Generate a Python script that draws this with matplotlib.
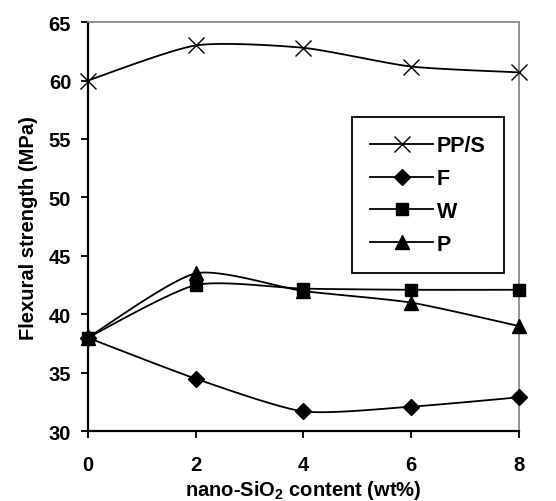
import numpy as np
import matplotlib.pyplot as plt

plt.rcParams['font.family'] = ['Liberation Sans', 'DejaVu Sans']
plt.rcParams['font.weight'] = 'bold'
plt.rcParams['mathtext.fontset'] = 'custom'
plt.rcParams['mathtext.rm'] = 'Liberation Sans:bold'
plt.rcParams['mathtext.bf'] = 'Liberation Sans:bold'

x = [0, 2, 4, 6, 8]
pps = [60.0, 63.0, 62.8, 61.2, 60.7]
f = [38.0, 34.5, 31.7, 32.1, 32.9]
w = [38.0, 42.5, 42.2, 42.1, 42.1]
p = [38.0, 43.5, 42.0, 41.0, 39.0]


def smooth(xs, ys, n=30, k=9.0):
    # excel-ish smoothed line (bezier through the points)
    xs = np.asarray(xs, float)
    ys = np.asarray(ys, float)
    px, py = [], []
    for i in range(len(xs) - 1):
        x0, y0 = xs[max(i - 1, 0)], ys[max(i - 1, 0)]
        x1, y1 = xs[i], ys[i]
        x2, y2 = xs[i + 1], ys[i + 1]
        x3, y3 = xs[min(i + 2, len(xs) - 1)], ys[min(i + 2, len(xs) - 1)]
        c1x, c1y = x1 + (x2 - x0) / k, y1 + (y2 - y0) / k
        c2x, c2y = x2 - (x3 - x1) / k, y2 - (y3 - y1) / k
        t = np.linspace(0, 1, n)
        px += list((1-t)**3*x1 + 3*(1-t)**2*t*c1x + 3*(1-t)*t**2*c2x + t**3*x2)
        py += list((1-t)**3*y1 + 3*(1-t)**2*t*c1y + 3*(1-t)*t**2*c2y + t**3*y2)
    return px, py


fig = plt.figure(figsize=(5.56, 5.02), dpi=100)
ax = fig.add_axes([0.158, 0.139, 0.775, 0.815])

series = [(pps, 'x', 11, 'PP/S'), (f, 'D', 8, 'F'), (w, 's', 9, 'W'), (p, '^', 9.5, 'P')]
handles = []
for ys, m, ms, lab in series:
    sx, sy = smooth(x, ys)
    ax.plot(sx, sy, color='black', lw=1.3, clip_on=False)
    ax.plot(x, ys, linestyle='none', marker=m, ms=ms, color='black',
            mew=1.0, clip_on=False, zorder=3)
    h, = ax.plot([], [], color='black', lw=1.3, marker=m, ms=ms, mew=1.0, label=lab)
    handles.append(h)

ax.set_xlim(0, 8)
ax.set_ylim(30, 65)
ax.set_xticks([0, 2, 4, 6, 8])
ax.set_yticks(range(30, 70, 5))
ax.tick_params(direction='out', length=5, width=1.3, labelsize=14.5)
ax.tick_params(axis='x', pad=12)
ax.tick_params(axis='y', pad=7)
for s in ['left', 'bottom']:
    ax.spines[s].set_linewidth(1.6)
for s in ['top', 'right']:
    ax.spines[s].set_color('#888888')
    ax.spines[s].set_linewidth(1.3)

ax.set_xlabel('nano-Si$\\mathregular{O_2}$ content (wt%)', fontsize=14.5,
              fontweight='bold', labelpad=3)
ax.set_ylabel('Flexural strength (MPa)', fontsize=14.5, fontweight='bold', labelpad=8)

leg = ax.legend(handles=handles, loc='upper left', bbox_to_anchor=(0.613, 0.768),
                borderaxespad=0, fancybox=False, edgecolor='black', framealpha=1,
                fontsize=15.5, handlelength=2.9, handletextpad=0.2, labelspacing=0.55,
                borderpad=0.85)
leg.get_frame().set_linewidth(1.3)

fig.savefig('out.png', dpi=100)
